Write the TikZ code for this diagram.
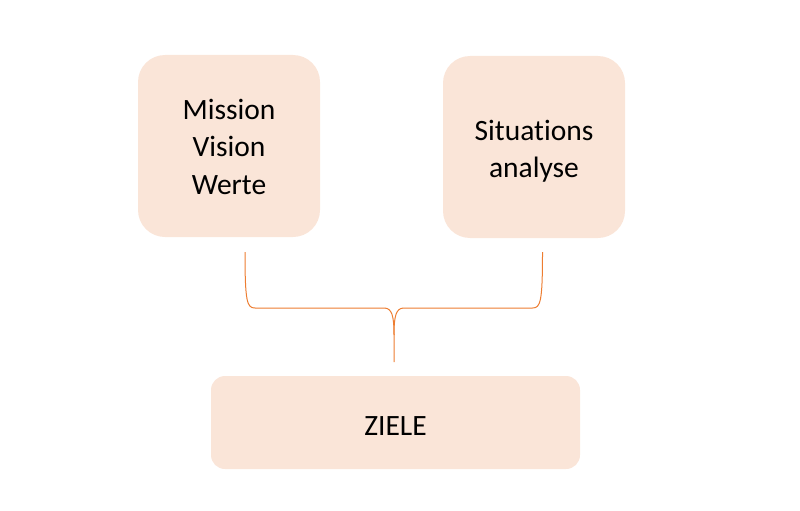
\documentclass[tikz,border=0pt]{standalone}
\usepackage{fontspec}
\setmainfont[Ligatures={NoCommon}]{Carlito}
\definecolor{boxfill}{HTML}{FAE5D8}
\definecolor{braceline}{HTML}{ED7D31}
\begin{document}
\begin{tikzpicture}[x=1pt,y=-1pt,
  box/.style={fill=boxfill,draw=none,rounded corners=#1,inner sep=0pt},
  txt/.style={inner sep=0pt,align=center,font=\fontsize{29.5}{37.5}\selectfont},
  bracestyle/.style={draw=braceline,line width=1pt}]
\useasboundingbox (0,0) rectangle (800,511);
\node[box=27pt,minimum width=182pt,minimum height=182pt] (mvw) at (229,146) {};
\node[txt] (mvwtext) at ([yshift=-0.5pt]mvw.center) {Mission\\Vision\\Werte};
\node[box=27pt,minimum width=182pt,minimum height=182pt] (sa) at (534,147) {};
\node[txt] (satext) at ([yshift=-4pt]sa.center) {Situations\\analyse};
\node[box=14pt,minimum width=369pt,minimum height=93pt] (ziele) at (395.5,422.5) {};
\node[txt] (zieletext) at ([yshift=-3.5pt]ziele.center) {ZIELE};
\coordinate (bl) at (245,252);
\coordinate (br) at (542.5,252);
\coordinate (tip) at (394,362);
\draw[bracestyle] (bl) .. controls (245,302) and (247,308) .. (255,308) -- (384,308)
  .. controls (392,308) and (394,316) .. (394,335) -- (tip);
\draw[bracestyle] (br) .. controls (542.5,302) and (540.5,308) .. (532.5,308) -- (404,308)
  .. controls (396,308) and (394,316) .. (394,335);
\end{tikzpicture}
\end{document}
